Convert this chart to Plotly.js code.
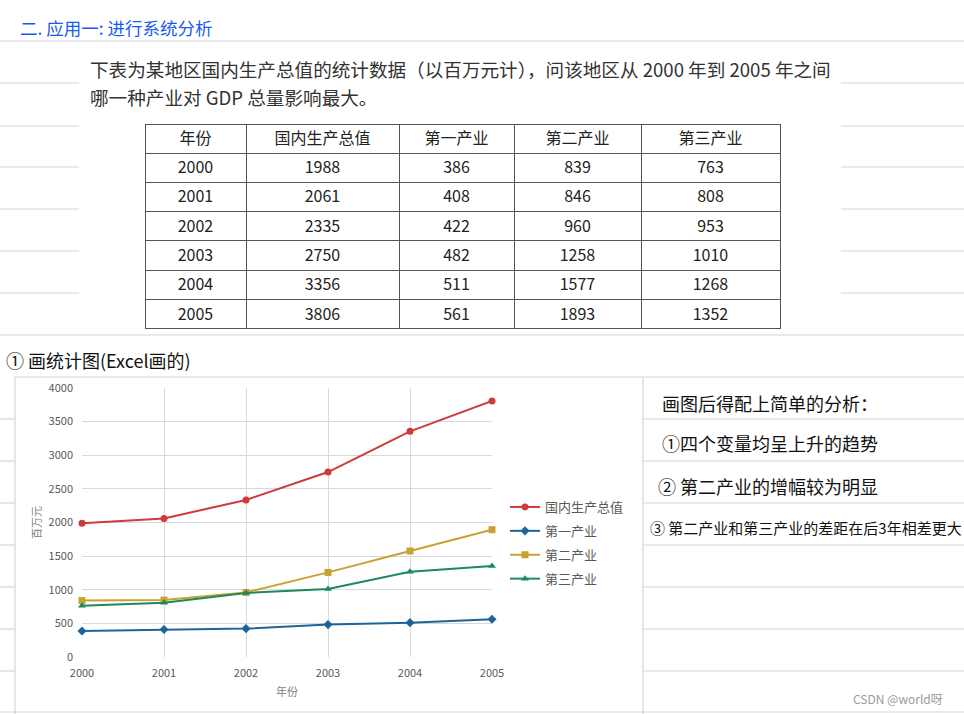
<!DOCTYPE html>
<html>
<head>
<meta charset="utf-8">
<script src="https://cdn.plot.ly/plotly-3.0.1.min.js"></script>
<style>html,body{margin:0;padding:0;background:#fff;}#chart{width:964px;height:714px;}</style>
</head>
<body>
<div id="chart"></div>
<script>
// ---- data ----
const years = [2000, 2001, 2002, 2003, 2004, 2005];
const gdp = [1988, 2061, 2335, 2750, 3356, 3806];
const primary = [386, 408, 422, 482, 511, 561];
const secondary = [839, 846, 960, 1258, 1577, 1893];
const tertiary = [763, 808, 953, 1010, 1268, 1352];
const seriesNames = ['国内生产总值', '第一产业', '第二产业', '第三产业'];
const tableHeader = ['年份', '国内生产总值', '第一产业', '第二产业', '第三产业'];
const yTicks = [0, 500, 1000, 1500, 2000, 2500, 3000, 3500, 4000];

// ---- layout helpers ----
const W = 964, H = 714;
const px = x => x / W;
const py = y => 1 - y / H;
const FONT = '"Noto Sans CJK SC", "Noto Sans", sans-serif';

const colors = ['#cf3a3a', '#1f6496', '#c9a130', '#1b8a5c'];
const symbols = ['circle', 'diamond', 'square', 'triangle-up'];
const values = [gdp, primary, secondary, tertiary];

const traces = [];
// table
traces.push({
  type: 'table',
  domain: {x: [px(145), px(780)], y: [py(330), py(124)]},
  columnwidth: [101, 153, 115, 127, 139],
  header: {
    values: tableHeader,
    align: 'center', height: 29,
    line: {color: '#555', width: 1},
    fill: {color: '#ffffff'},
    font: {family: FONT, size: 16, color: '#222'}
  },
  cells: {
    values: [years, gdp, primary, secondary, tertiary],
    align: 'center', height: 29.3,
    line: {color: '#555', width: 1},
    fill: {color: '#ffffff'},
    font: {family: FONT, size: 16, color: '#222'}
  }
});
// lines
values.forEach((v, i) => {
  traces.push({
    type: 'scatter', mode: 'lines+markers',
    x: years, y: v, name: seriesNames[i],
    legendgroup: 'g' + i,
    line: {color: colors[i], width: 2},
    marker: {color: colors[i], symbol: symbols[i], size: 7},
    cliponaxis: false,
    xaxis: 'x', yaxis: 'y'
  });
});

// notebook ruled lines [x0, x1, y]
const rules = [
  [0, W, 41], [0, W, 335], [15, W, 377], [0, W, 712]
];
[83, 126, 167, 209, 251, 293].forEach(y => { rules.push([0, 79, y]); rules.push([841, W, y]); });
[419, 461, 503, 545, 587, 629, 671].forEach(y => { rules.push([0, 15, y]); rules.push([643, W, y]); });
const shapes = rules.map(r => ({
  type: 'line', xref: 'paper', yref: 'paper',
  x0: px(r[0]), x1: px(r[1]), y0: py(r[2]), y1: py(r[2]),
  line: {color: '#d6d6d6', width: 1.2}
}));
[[15, 377, 714], [643, 377, 714]].forEach(v => shapes.push({
  type: 'line', xref: 'paper', yref: 'paper',
  x0: px(v[0]), x1: px(v[0]), y0: py(v[1]), y1: py(v[2]),
  line: {color: '#d6d6d6', width: 1.2}
}));

function note(text, x, y, size, color, opts) {
  return Object.assign({
    text: text, xref: 'paper', yref: 'paper', x: px(x), y: py(y),
    xanchor: 'left', yanchor: 'middle', showarrow: false,
    font: {family: FONT, size: size, color: color}
  }, opts || {});
}

const annotations = [
  note('二. 应用一: 进行系统分析', 18, 28, 17.5, '#1a5af0'),
  note('下表为某地区国内生产总值的统计数据（以百万元计），问该地区从 2000 年到 2005 年之间', 88, 68, 18.6, '#333'),
  note('哪一种产业对 GDP 总量影响最大。', 88, 97, 18.6, '#333'),
  note('① 画统计图(Excel画的)', 4, 360, 18, '#111'),
  note('画图后得配上简单的分析：', 660, 403, 18, '#111'),
  note('①四个变量均呈上升的趋势', 660, 443, 18, '#111'),
  note('② 第二产业的增幅较为明显', 656, 486, 18, '#111'),
  note('③ 第二产业和第三产业的差距在后3年相差更大', 648, 527, 15, '#111'),
  note('百万元', 36, 523, 11, '#7f7f7f', {xanchor: 'center', textangle: -90}),
  note('年份', 287, 691, 11, '#7f7f7f', {xanchor: 'center'}),
  note('CSDN @world呀', 851, 698, 12, '#9a9a9a')
];

const layout = {
  width: W, height: H,
  margin: {l: 0, r: 0, t: 0, b: 0},
  paper_bgcolor: '#ffffff', plot_bgcolor: '#ffffff',
  font: {family: FONT, size: 11, color: '#595959'},
  showlegend: true,
  legend: {
    x: px(505), y: py(492), xanchor: 'left', yanchor: 'top',
    font: {family: FONT, size: 13, color: '#595959'},
    bgcolor: 'rgba(0,0,0,0)', tracegroupgap: 4, traceorder: 'grouped'
  },
  xaxis: {
    domain: [px(82), px(492)], range: [2000, 2005],
    tickvals: years, ticktext: years.map(String),
    showgrid: true, gridcolor: '#d9d9d9', zeroline: false,
    showline: false, ticks: '', ticklabelstandoff: 8,
    tickfont: {size: 11, color: '#595959'}, automargin: false, fixedrange: true
  },
  yaxis: {
    domain: [py(657), py(388)], range: [0, 4000],
    tickvals: yTicks,
    showgrid: true, gridcolor: '#d9d9d9', zeroline: false,
    showline: false, ticks: '', ticklabelstandoff: 8,
    tickfont: {size: 11, color: '#595959'}, automargin: false, fixedrange: true
  },
  shapes: shapes,
  annotations: annotations
};

Plotly.newPlot('chart', traces, layout, {displayModeBar: false, staticPlot: true});
</script>
</body>
</html>
